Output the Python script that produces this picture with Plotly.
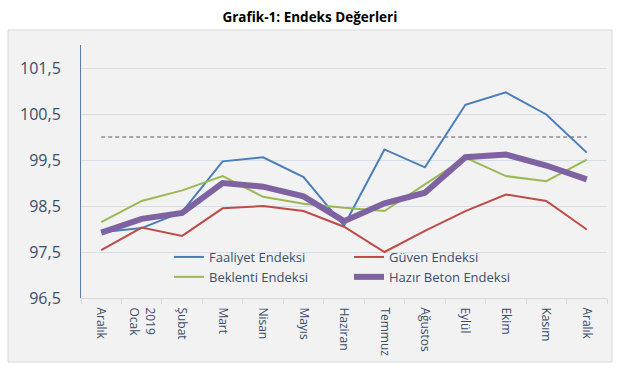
import plotly.graph_objects as go

# ---- data ----
month_labels = ["Aralık", "2019<br>Ocak", "Şubat", "Mart", "Nisan", "Mayıs", "Haziran",
                "Temmuz", "Ağustos", "Eylül", "Ekim", "Kasım", "Aralık"]
faaliyet = [97.93, 98.02, 98.37, 99.47, 99.56, 99.13, 98.07, 99.73, 99.34, 100.70, 100.97, 100.49, 99.66]
guven = [97.54, 98.03, 97.85, 98.45, 98.50, 98.39, 98.05, 97.50, 97.96, 98.39, 98.75, 98.61, 97.99]
beklenti = [98.15, 98.61, 98.84, 99.15, 98.70, 98.55, 98.46, 98.39, 98.97, 99.55, 99.15, 99.04, 99.51]
hazir_beton = [97.92, 98.22, 98.35, 99.00, 98.92, 98.71, 98.17, 98.56, 98.79, 99.56, 99.62, 99.38, 99.08]
reference_level = 100
y_ticks = [96.5, 97.5, 98.5, 99.5, 100.5, 101.5]

x = list(range(len(month_labels)))
series = [
    ("Faaliyet Endeksi", faaliyet, "#4A7EBB", 2),
    ("Güven Endeksi", guven, "#BE4B48", 2),
    ("Beklenti Endeksi", beklenti, "#98B954", 2),
    ("Hazır Beton Endeksi", hazir_beton, "#7F62A1", 6),
]

fig = go.Figure()
fig.add_trace(go.Scatter(x=x, y=[reference_level] * len(x), mode="lines",
                         line=dict(color="#A6A6A6", width=2, dash="4px,3px"),
                         showlegend=False, hoverinfo="skip"))
for name, vals, color, w in series:
    fig.add_trace(go.Scatter(x=x, y=vals, mode="lines", name=name,
                             line=dict(color=color, width=w)))

L, R, T, B = 81, 19, 45, 77
W, H = 626, 375
pw, ph = W - L - R, H - T - B

def px_x(p):
    return (p - L) / pw

def px_y(p):
    return (H - B - p) / ph

txt = "#3A4E6B"
fig.update_layout(
    width=W, height=H,
    margin=dict(l=L, r=R, t=T, b=B),
    paper_bgcolor="white", plot_bgcolor="rgba(0,0,0,0)",
    font=dict(family="Open Sans", color=txt),
    title=dict(text="<b>Grafik-1: Endeks Değerleri</b>", x=0.495, xanchor="center",
               y=1 - 17 / H, yanchor="middle", font=dict(size=13.5, color="black")),
    shapes=[dict(type="rect", xref="paper", yref="paper",
                 x0=px_x(8), x1=px_x(612), y0=px_y(362), y1=px_y(30),
                 fillcolor="#F2F2F2", line=dict(color="#D9D9D9", width=1), layer="below")],
    xaxis=dict(range=[-0.5, len(x) - 0.5], tickmode="array", tickvals=x, ticktext=month_labels,
               tickangle=90, tickfont=dict(size=12, color=txt), showgrid=False,
               showline=True, linecolor="#D9D9D9", linewidth=1, ticks="", zeroline=False,
               minor=dict(tickmode="array", tickvals=[i - 0.5 for i in range(len(x) + 1)],
                          ticks="outside", ticklen=5, tickcolor="#D9D9D9", showgrid=False),
               ticklabelstandoff=6),
    yaxis=dict(range=[96.5, 102], tickmode="array", tickvals=y_ticks,
               tickformat=".1f", tickfont=dict(size=16, color=txt),
               showgrid=True, gridcolor="#D5DDE6", gridwidth=1,
               showline=True, linecolor="#5B7BA6", linewidth=1, zeroline=False,
               ticks="", ticklabelstandoff=16),
    separators=", ",
    legend=dict(orientation="h", x=px_x(169), xanchor="left", y=px_y(242), yanchor="top",
                entrywidth=135, entrywidthmode="pixels", bgcolor="rgba(0,0,0,0)",
                font=dict(size=13, color=txt), tracegroupgap=0, traceorder="normal"),
)

fig.write_html("out.html", config={"displayModeBar": False},
               post_script="document.body.style.margin='0';")
